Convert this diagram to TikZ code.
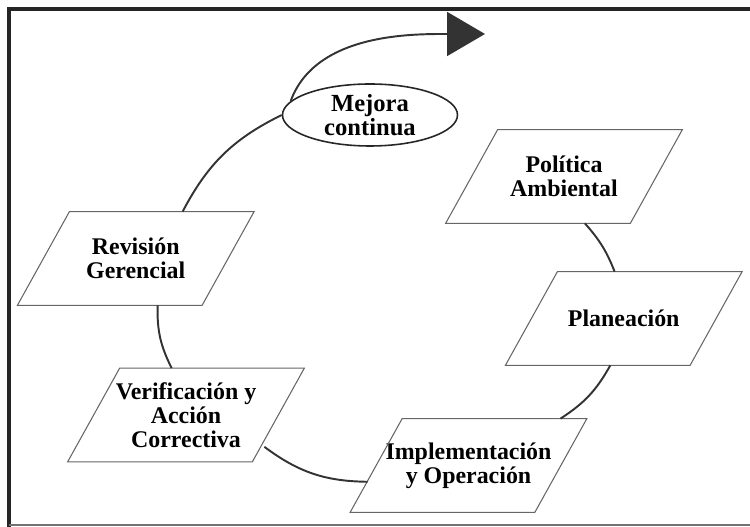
\documentclass[tikz,border=0pt]{standalone}
\usepackage{fontspec}
\setmainfont{Liberation Serif}
\usetikzlibrary{shapes.geometric,arrows.meta}

\begin{document}
\begin{tikzpicture}[every node/.style={font=\bfseries\fontsize{13.6}{13.8}\selectfont,align=center},
   paso/.style={minimum width=3.68cm,minimum height=1.86cm,inner sep=0pt},
   borde/.style={draw=black!60,line width=0.6pt},
   ciclo/.style={draw=black!80,line width=1.1pt}]
   \useasboundingbox (0,0) rectangle (15,10.54);
   % marco
   \draw [line width=2.2pt,black!85] (0.18,0) -- (0.18,10.36) -- (15,10.36);
   \draw [line width=1.1pt,black!55] (0.18,0.04) -- (15,0.04);
   % pasos del ciclo
   \node [paso] (pol) at (11.28,7.01) {Política\\Ambiental};
   \node [paso] (pla) at (12.475,4.17) {Planeación};
   \node [paso] (imp) at (9.37,1.23) {Implementación\\y Operación};
   \node [paso] (ver) at (3.72,2.24) {Verificación y\\Acción\\Correctiva};
   \node [paso] (rev) at (2.715,5.37) {Revisión\\Gerencial};
   \foreach \n in {pol,pla,imp,ver,rev}
     \draw [borde] ([xshift=0.52cm]\n.north west) -- ([xshift=0.52cm]\n.north east)
       -- ([xshift=-0.52cm]\n.south east) -- ([xshift=-0.52cm]\n.south west) -- cycle;
   \node [draw=black!85,ellipse,line width=0.9pt,minimum width=3.5cm,minimum height=1.24cm,
     inner sep=0pt,font=\bfseries\fontsize{14}{13.8}\selectfont] (mej) at (7.40,8.24) {Mejora\\continua};
   \coordinate (punta) at (9.70,9.86);
   % conectores
   \draw [ciclo] (pol.-66) to[bend left=10] (pla.101);
   \draw [ciclo] (pla.-106) to[bend left=14] (imp.27);
   \draw [ciclo] ([xshift=-0.17cm]imp.190) to[bend left=18] ([xshift=-0.28cm]ver.-19);
   \draw [ciclo] (ver.107) to[bend left=14] (rev.-65);
   \draw [ciclo] (rev.45) to[bend left=18] (mej.west);
   \draw [ciclo,-{Triangle[length=0.76cm,width=0.88cm]}] (mej.170) to[out=70,in=180,looseness=0.9] (punta);
\end{tikzpicture}
\end{document}
